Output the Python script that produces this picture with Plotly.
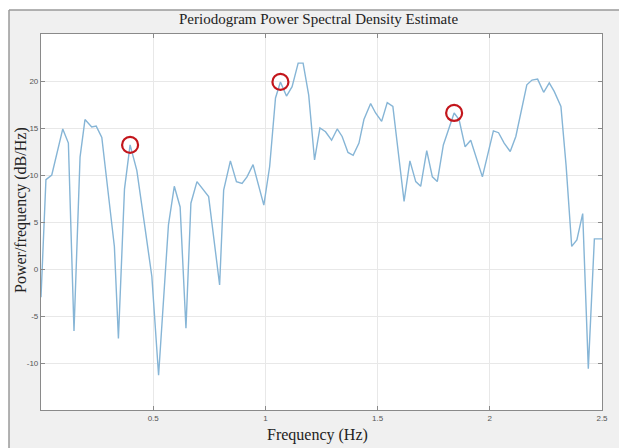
import plotly.graph_objects as go

# Frequency (Hz) and power (dB/Hz)
freq = [0.0, 0.022, 0.048, 0.097, 0.122, 0.147, 0.174, 0.196, 0.226, 0.246, 0.271,
        0.327, 0.345, 0.372, 0.397, 0.427, 0.464, 0.494, 0.524, 0.568, 0.594, 0.62,
        0.646, 0.668, 0.695, 0.747, 0.796, 0.814, 0.844, 0.871, 0.896, 0.918, 0.945,
        0.993, 1.019, 1.045, 1.067, 1.094, 1.119, 1.146, 1.168, 1.193, 1.219, 1.243,
        1.268, 1.295, 1.32, 1.342, 1.368, 1.391, 1.417, 1.439, 1.469, 1.491, 1.518,
        1.543, 1.568, 1.618, 1.644, 1.67, 1.692, 1.719, 1.744, 1.766, 1.793, 1.818,
        1.841, 1.863, 1.89, 1.915, 1.967, 2.016, 2.039, 2.064, 2.091, 2.116, 2.165,
        2.188, 2.213, 2.24, 2.265, 2.287, 2.317, 2.34, 2.365, 2.388, 2.414, 2.439,
        2.466, 2.5]
power = [-3.0, 9.5, 10.0, 14.9, 13.4, -6.6, 11.9, 15.9, 15.1, 15.2, 14.0,
         2.4, -7.4, 8.5, 13.2, 10.5, 4.3, -0.8, -11.3, 4.7, 8.8, 6.6,
         -6.3, 7.0, 9.3, 7.7, -1.7, 8.4, 11.5, 9.3, 9.1, 9.8, 11.1,
         6.8, 10.9, 18.2, 19.9, 18.4, 19.4, 21.9, 21.9, 18.5, 11.6, 15.0,
         14.6, 13.7, 14.9, 14.1, 12.4, 12.1, 13.4, 15.9, 17.6, 16.6, 15.7,
         17.7, 17.3, 7.2, 11.5, 9.3, 8.8, 12.6, 9.8, 9.3, 13.2, 15.1,
         16.6, 15.9, 13.0, 13.7, 9.8, 14.7, 14.5, 13.4, 12.5, 14.1, 19.6,
         20.1, 20.2, 18.8, 19.8, 18.9, 17.3, 11.0, 2.4, 3.1, 5.9, -10.6,
         3.2, 3.2]

# Marked peaks
peak_freq = [0.397, 1.067, 1.841]
peak_power = [13.2, 19.9, 16.6]

x_ticks = [0.5, 1, 1.5, 2, 2.5]
x_ticktext = ["0.5", "1", "1.5", "2", "2.5"]
y_ticks = [-10, -5, 0, 5, 10, 15, 20]
y_ticktext = ["-10", "-5", "0", "5", "10", "15", "20"]

W, H = 619, 448
L, R, T, B = 41, 17, 34, 38
pw, ph = W - L - R, H - T - B

def px(x):
    return (x - L) / pw

def py(y):
    return 1 - (y - T) / ph

fig = go.Figure()
fig.add_trace(go.Scatter(x=freq, y=power, mode="lines",
                         line=dict(color="#86b5d6", width=1.4),
                         hoverinfo="skip", showlegend=False))
fig.add_trace(go.Scatter(x=peak_freq, y=peak_power, mode="markers",
                         marker=dict(symbol="circle-open", size=16,
                                     color="#c3161c", line=dict(width=2.2)),
                         showlegend=False))

axis_common = dict(showline=True, linecolor="#8a8a8a", linewidth=1.2, mirror="ticks",
                   ticks="inside", ticklen=4, tickcolor="#8a8a8a", automargin=False,
                   showgrid=True, gridcolor="#e8e8e8", gridwidth=1, zeroline=False,
                   tickfont=dict(family="Liberation Sans", size=8, color="#555555"))

fig.update_xaxes(range=[0, 2.5], tickvals=x_ticks, ticktext=x_ticktext, **axis_common)
fig.update_yaxes(range=[-15, 25], tickvals=y_ticks, ticktext=y_ticktext, **axis_common)

shapes = [
    # white outer strips
    dict(type="rect", xref="paper", yref="paper", x0=px(0), x1=px(9), y0=py(H), y1=py(0),
         fillcolor="white", line_width=0, layer="below"),
    dict(type="rect", xref="paper", yref="paper", x0=px(0), x1=px(W), y0=py(10), y1=py(0),
         fillcolor="white", line_width=0, layer="below"),
    # border lines
    dict(type="line", xref="paper", yref="paper", x0=px(9), x1=px(9), y0=py(H), y1=py(10),
         line=dict(color="#9a9a9a", width=1.5)),
    dict(type="line", xref="paper", yref="paper", x0=px(9), x1=px(W), y0=py(10), y1=py(10),
         line=dict(color="#9a9a9a", width=1.5)),
]

annotations = [
    dict(text="Periodogram Power Spectral Density Estimate", xref="paper", yref="paper",
         x=px(318), y=py(19), showarrow=False, xanchor="center", yanchor="middle",
         font=dict(family="Liberation Serif", size=15, color="#222222")),
    dict(text="Frequency (Hz)", xref="paper", yref="paper",
         x=px(317), y=py(435), showarrow=False, xanchor="center", yanchor="middle",
         font=dict(family="Liberation Serif", size=16, color="#222222")),
    dict(text="Power/frequency (dB/Hz)", xref="paper", yref="paper", textangle=-90,
         x=px(21), y=py(210), showarrow=False, xanchor="center", yanchor="middle",
         font=dict(family="Liberation Serif", size=16, color="#222222")),
]

fig.update_layout(width=W, height=H, margin=dict(l=L, r=R, t=T, b=B),
                  paper_bgcolor="#f0f0f0", plot_bgcolor="white",
                  shapes=shapes, annotations=annotations, showlegend=False)

fig.write_html("out.html", config={"displayModeBar": False},
               post_script="document.body.style.margin='0';document.body.style.overflow='hidden';")
